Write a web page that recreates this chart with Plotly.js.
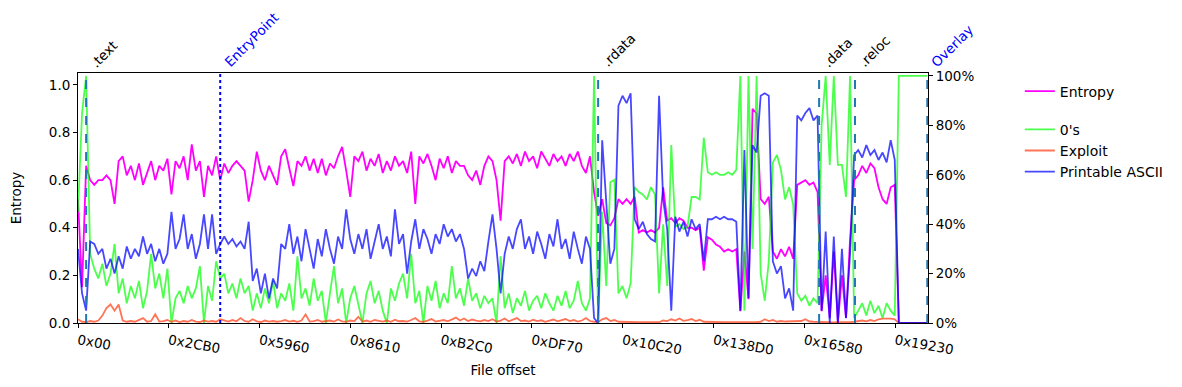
<!DOCTYPE html>
<html>
<head>
<meta charset="utf-8">
<script src="https://cdn.plot.ly/plotly-3.0.1.min.js"></script>
<style>html,body{margin:0;padding:0;background:#fff;}#chart{width:1182px;height:387px;}</style>
</head>
<body>
<div id="chart"></div>
<script>
// chunk size (bytes) of each sample
const CHUNK = 512;
const FILE_END = 107100;

const entropy = [
0.52,0.15,0.66,0.60,0.58,0.60,0.60,0.62,0.60,0.50,
0.68,0.70,0.62,0.66,0.60,0.67,0.58,0.63,0.68,0.60,
0.66,0.64,0.69,0.54,0.68,0.65,0.70,0.60,0.75,0.64,
0.68,0.53,0.66,0.62,0.70,0.60,0.67,0.63,0.66,0.68,
0.66,0.64,0.51,0.60,0.72,0.64,0.60,0.66,0.62,0.58,
0.70,0.73,0.65,0.575,0.68,0.66,0.70,0.64,0.69,0.63,
0.69,0.62,0.67,0.65,0.70,0.74,0.64,0.53,0.70,0.68,
0.72,0.64,0.69,0.66,0.71,0.63,0.68,0.64,0.70,0.66,
0.68,0.63,0.72,0.50,0.70,0.67,0.71,0.66,0.60,0.69,
0.65,0.70,0.63,0.68,0.66,0.66,0.62,0.60,0.64,0.58,
0.66,0.70,0.68,0.60,0.43,0.68,0.70,0.67,0.71,0.66,
0.72,0.68,0.70,0.65,0.72,0.69,0.66,0.71,0.68,0.70,
0.66,0.71,0.68,0.72,0.66,0.63,0.70,0.55,0.45,0.52,
0.42,0.41,0.44,0.52,0.50,0.52,0.50,0.53,0.38,0.39,
0.38,0.39,0.38,0.40,0.57,0.43,0.44,0.42,0.44,0.43,
0.40,0.40,0.39,0.40,0.22,0.36,0.35,0.33,0.32,0.30,
0.31,0.30,0.31,0.05,0.30,0.10,0.90,0.88,0.52,0.50,
0.53,0.30,0.27,0.31,0.28,0.32,0.27,0.58,0.59,0.60,
0.58,0.59,0.55,0.05,0.20,0.02,0.30,0.00,0.20,0.02,
0.35,0.60,0.62,0.66,0.63,0.67,0.65,0.57,0.52,0.50,
0.57,0.58,0,0,0,0,0,0,0,0
];

const zeros = [
45,85,100,28,22,18,24,15,20,32,
12,18,8,15,10,17,6,13,28,14,
20,10,22,0,10,13,8,15,10,14,
23,0,15,9,25,18,20,12,16,10,
18,12,15,5,12,6,14,8,17,6,
12,9,16,5,27,10,14,7,18,9,
13,0,12,23,8,14,0,10,15,7,
0,12,17,8,13,5,0,14,9,16,
20,10,28,8,13,0,15,9,17,6,
12,8,23,10,14,7,18,9,12,6,
11,8,10,0,27,6,12,4,10,7,
13,5,9,11,6,12,8,5,11,7,
13,6,9,17,8,5,10,100,0,45,
15,57,58,12,15,10,16,55,53,52,
50,55,52,12,40,15,72,39,40,38,
39,51,51,50,75,61,60,61,60,60,
61,60,62,100,5,100,30,100,20,9,
25,65,68,62,50,55,48,12,9,11,
7,10,8,80,100,64,100,64,64,51,
100,2,5,8,3,9,4,7,2,8,
5,3,100,100,100,100,100,100,100,100
];

const exploit = [
1.5,0.5,0.3,0.8,0.5,1,3,6,7.5,5,
7.5,1,0.5,0.8,0.5,1.2,2,0.5,0.8,3.5,
0.6,0.8,1.2,0.5,1,0.4,0.8,0.5,1.2,0.6,
0.4,1,0.6,0.8,0.5,1.5,1,0.6,1.2,0.7,
2,0.8,0.5,1.5,0.7,0.4,1,0.6,0.8,0.5,
0.8,1.2,0.6,0.9,0.5,1,3.5,0.6,0.8,1.2,
0.5,0.8,1,0.6,1.4,0.7,0.5,1,0.8,2.5,
0.6,1,0.5,1.2,0.8,0.6,1,0.5,1.3,0.7,
0.8,0.6,1.2,2,0.7,0.5,1,1.6,0.6,0.9,
1.2,0.7,1.5,2.2,1,1.8,0.8,1.4,1,0.7,
1.2,0.8,1.5,0.6,1,1.8,0.7,1.2,2,0.8,
1,0.6,1.3,0.8,1.1,0.5,0.9,1.4,0.7,1,
1.6,0.8,1.2,0.6,1,2,0.8,0.5,0.3,1.5,
2,0.8,1.2,0.5,0.4,0.3,0.3,0.3,0.3,0.3,
0.3,0.3,0.3,0.3,1,0.8,1.5,1,1.8,0.9,
1.2,1.6,0.8,1.3,0.5,0.4,0.3,0.3,0.3,0.3,
0.3,0.3,0.3,0,0,0,0,0.3,0.5,1.5,
0.8,1.2,0.5,0.8,0.6,0.7,0.5,0.6,0.8,1.5,
0.6,0.5,0.4,0.3,0.2,0.3,0.2,0.3,0.2,0.3,
0.3,0.5,0.8,1,0.7,1.2,0.8,1.5,1.8,1.9,
1.8,1.5,0,0,0,0,0,0,0,0
];

const ascii = [
30,12,5,33,32,28,30,22,26,20,
27,22,31,26,30,27,35,28,32,25,
30,24,28,45,30,34,44,30,36,26,
32,44,30,44,28,32,35,32,34,31,
33,30,41,17,22,12,20,10,18,14,
32,30,40,28,35,25,38,30,22,34,
27,38,30,24,35,30,46,34,28,36,
30,38,26,33,40,30,35,27,46,32,
36,20,33,42,30,38,34,28,36,32,
40,35,38,33,36,30,18,22,19,25,
21,33,44,30,12,28,35,30,38,42,
30,35,28,37,32,26,36,31,42,30,
34,26,37,30,24,35,30,2,0,74,
50,24,30,88,92,89,93,42,38,41,
36,34,33,92,50,38,5,43,37,41,
35,42,38,40,25,42,42,43,42,43,
42,42,41,5,70,10,72,69,92,93,
92,25,20,23,10,14,5,84,82,85,
87,82,84,5,37,0,35,0,30,2,
28,68,70,67,72,68,70,66,69,65,
74,66,0,0,0,0,0,0,0,0
];

const tickOffsets = [0x0, 0x2CB0, 0x5960, 0x8610, 0xB2C0, 0xDF70, 0x10C20, 0x138D0, 0x16580, 0x19230];
const tickLabels = ['0x00','0x2CB0','0x5960','0x8610','0xB2C0','0xDF70','0x10C20','0x138D0','0x16580','0x19230'];
const entTicks = [0, 0.2, 0.4, 0.6, 0.8, 1.0];
const entTickLabels = ['0.0','0.2','0.4','0.6','0.8','1.0'];
const pctTicks = [0, 20, 40, 60, 80, 100];
const pctTickLabels = ['0%','20%','40%','60%','80%','100%'];

const sectionNames = ['.text','EntryPoint','.rdata','.data','.reloc','Overlay'];
const sectionOffsets = [1024, 17920, 65536, 93380, 97900, 107008];
const sectionKinds = ['section','entry','section','section','section','overlay'];

const offsets = entropy.map((_, i) => i * CHUNK);

const FONT = 'DejaVu Sans, sans-serif';
const FS = 13.5;
const lw = 1.8;

const traces = [
  {x: offsets, y: entropy, name: 'Entropy', type: 'scatter', mode: 'lines', yaxis: 'y',
   line: {color: '#ff00ff', width: lw}, legendgroup: 'g1'},
  {x: offsets, y: zeros, name: "0's", type: 'scatter', mode: 'lines', yaxis: 'y2',
   line: {color: 'rgba(0,255,0,0.7)', width: lw}, legendgroup: 'g2'},
  {x: offsets, y: exploit, name: 'Exploit', type: 'scatter', mode: 'lines', yaxis: 'y2',
   line: {color: 'rgba(255,69,30,0.75)', width: lw}, legendgroup: 'g2'},
  {x: offsets, y: ascii, name: 'Printable ASCII', type: 'scatter', mode: 'lines', yaxis: 'y2',
   line: {color: 'rgba(0,0,255,0.72)', width: lw}, legendgroup: 'g2'}
];

const shapes = sectionOffsets.map((off, k) => ({
  type: 'line', xref: 'x', yref: 'paper', x0: off, x1: off, y0: 0, y1: 1,
  line: sectionKinds[k] === 'entry'
    ? {color: '#0000ff', width: 2, dash: 'dot'}
    : {color: '#1f77b4', width: 2, dash: 'dash'}
}));

const annotations = sectionNames.map((nm, k) => ({
  x: sectionOffsets[k], y: 1, xref: 'x', yref: 'paper', text: nm, showarrow: false,
  textangle: -45, xanchor: 'left', yanchor: 'bottom', xshift: -2, yshift: 0,
  font: {family: FONT, size: FS, color: sectionKinds[k] === 'section' ? '#000000' : '#0000ff'}
}));

const layout = {
  width: 1182, height: 387,
  margin: {l: 78, r: 254, t: 73, b: 64, pad: 0},
  paper_bgcolor: '#ffffff', plot_bgcolor: '#ffffff',
  font: {family: FONT, size: FS, color: '#000'},
  showlegend: true,
  legend: {x: 1.108, y: 0.99, xanchor: 'left', yanchor: 'top', traceorder: 'grouped',
           tracegroupgap: 17, font: {family: FONT, size: 14}, itemwidth: 30, bgcolor: 'rgba(0,0,0,0)'},
  xaxis: {
    range: [0, FILE_END], tickmode: 'array', tickvals: tickOffsets, ticktext: tickLabels, tickangle: 10,
    ticks: 'outside', ticklen: 4, tickcolor: '#000', showline: true, linecolor: '#000', linewidth: 1,
    mirror: true, showgrid: false, zeroline: false,
    title: {text: 'File offset', font: {family: FONT, size: FS}, standoff: 8}
  },
  yaxis: {
    range: [0, 1.05], tickmode: 'array', tickvals: entTicks, ticktext: entTickLabels,
    ticks: 'outside', ticklen: 4, tickcolor: '#000', showline: true, linecolor: '#000', linewidth: 1,
    mirror: true, showgrid: false, zeroline: false,
    title: {text: 'Entropy', font: {family: FONT, size: FS}, standoff: 24}
  },
  yaxis2: {
    overlaying: 'y', side: 'right', range: [0, 101.2], tickmode: 'array', tickvals: pctTicks, ticktext: pctTickLabels,
    ticks: 'outside', ticklen: 4, tickcolor: '#000', showline: true, linecolor: '#000', linewidth: 1,
    showgrid: false, zeroline: false
  },
  shapes: shapes,
  annotations: annotations
};

Plotly.newPlot('chart', traces, layout, {displayModeBar: false, staticPlot: true});
</script>
</body>
</html>
